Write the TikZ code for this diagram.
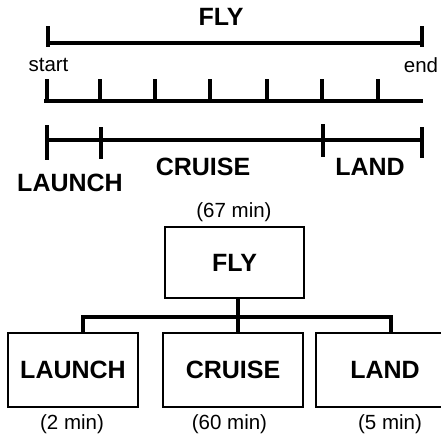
\documentclass[tikz,border=0pt]{standalone}
\usepackage{fontspec}
\setmainfont{Liberation Sans}
\begin{document}
\begin{tikzpicture}[x=1pt,y=-1pt,
  thick bar/.style={line width=4pt, line cap=butt},
  big/.style={font=\fontsize{25}{28}\selectfont\bfseries, inner sep=0pt},
  small/.style={font=\fontsize{20.5}{24}\selectfont, inner sep=0pt},
  box/.style={draw, line width=1.8pt, inner sep=0pt, font=\fontsize{25}{28}\selectfont\bfseries},
  conn/.style={line width=4pt}]
\useasboundingbox (0,0) rectangle (441,437);
% --- top timeline: FLY ---
\node[big] (flyT) at (221,17) {FLY};
\coordinate (fs) at (48,43);
\coordinate (fe) at (422,43);
\draw[thick bar] (fs) -- (fe);
\draw[thick bar] (48,26) -- (48,47);
\draw[thick bar] (422,26) -- (422,47);
\node[small] (start) at (48.5,65) {start};
\node[small] (end) at (421,65) {end};
% --- ruler ---
\draw[thick bar] (44,101) -- (423,101);
\foreach \x in {46.5,100,155,210,267,322,377.5}
  \draw[thick bar] (\x,79) -- (\x,101);
% --- segments ---
\draw[thick bar] (46.5,140) -- (422,140);
\draw[thick bar] (46.5,125) -- (46.5,160);
\draw[thick bar] (101,127) -- (101,159);
\draw[thick bar] (323,124) -- (323,157);
\draw[thick bar] (422,127) -- (422,158);
\node[big] (launchT) at (70,182.5) {LAUNCH};
\node[big] (cruiseT) at (203,167) {CRUISE};
\node[big] (landT) at (370,167) {LAND};
% --- tree ---
\node[small] (t67) at (234,212) {(67 min)};
\node[box, minimum width=139pt, minimum height=71pt] (fly) at (234.5,262.5) {FLY};
\node[box, minimum width=130pt, minimum height=74pt] (launch) at (73,370) {LAUNCH};
\node[box, minimum width=140pt, minimum height=74pt] (cruise) at (233,370) {CRUISE};
\node[box, minimum width=138pt, minimum height=74pt] (land) at (385,370) {LAND};
\coordinate (j) at (237.5,316.5);
\draw[conn] (fly.south -| j) -- (j);
\draw[conn] ([xshift=10pt]launch.north) |- (j) -| ([xshift=5.5pt]land.north);
\draw[conn] (j) -- (cruise.north -| j);
\node[small] (t2) at (72,424) {(2 min)};
\node[small] (t60) at (229.5,424) {(60 min)};
\node[small] (t5) at (390,424) {(5 min)};
\end{tikzpicture}
\end{document}
